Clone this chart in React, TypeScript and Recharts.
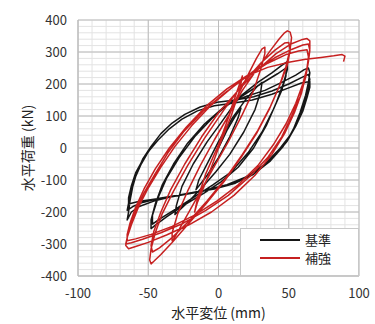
import React from 'react';
import { LineChart, Line, XAxis, YAxis, CartesianGrid, Legend, ReferenceLine } from 'recharts';

// axis ticks
const xTicks = [-100, -50, 0, 50, 100];
const yTicks = [-400, -300, -200, -100, 0, 100, 200, 300, 400];
const xMinorTicks = [-100, -90, -80, -70, -60, -50, -40, -30, -20, -10, 0, 10, 20, 30, 40, 50, 60, 70, 80, 90, 100];
const yMinorTicks = [
  -400, -380, -360, -340, -320, -300, -280, -260, -240, -220, -200, -180, -160, -140, -120, -100, -80, -60, -40, -20,
  0, 20, 40, 60, 80, 100, 120, 140, 160, 180, 200, 220, 240, 260, 280, 300, 320, 340, 360, 380, 400,
];

// 基準 (baseline specimen), [disp mm, load kN]
const kijunCycle1 = [
  [0, 0], [6, 55], [12, 100], [16, 125], [14, 95], [8, 35], [0, -30], [-8, -85], [-16, -130], [-14, -100], [-7, -40], [0, 20],
];
const kijunCycle2 = [
  [10, 95], [20, 155], [27, 190], [31, 205], [30, 175], [26, 120], [18, 50], [8, -20], [-2, -75], [-12, -125],
  [-22, -170], [-28, -195], [-31, -208], [-30, -180], [-26, -120], [-18, -50], [-8, 20], [2, 80],
];
const kijunCycle3 = [
  [15, 160], [28, 205], [38, 235], [45, 258], [49, 270], [49, 245], [46, 200], [41, 140], [34, 70], [25, 0],
  [14, -60], [2, -105], [-10, -140], [-25, -180], [-37, -215], [-44, -238], [-48, -252], [-48, -225], [-45, -175],
  [-40, -115], [-32, -50], [-22, 15], [-10, 75], [3, 125], [16, 160], [30, 200], [42, 232], [48, 250], [48, 225],
  [45, 180], [39, 120], [31, 50], [21, -15], [9, -75], [-4, -115], [-18, -155], [-32, -195], [-42, -222],
  [-47, -238], [-47, -210], [-43, -155], [-37, -95], [-28, -30], [-17, 35], [-4, 95], [8, 140],
];
const kijunCycle4 = [
  [20, 162], [33, 180], [45, 205], [55, 228], [61, 245], [64, 250], [65, 235], [64, 205], [62, 165], [58, 110],
  [53, 55], [46, 5], [37, -40], [25, -82], [12, -110], [-3, -128], [-18, -140], [-33, -152], [-46, -166],
  [-56, -182], [-62, -200], [-65, -225], [-64, -200], [-63, -165], [-61, -120], [-58, -75], [-54, -35],
  [-48, 5], [-41, 45], [-33, 78], [-24, 105], [-13, 128], [-1, 143], [12, 150], [25, 160], [38, 178], [50, 200],
  [59, 220], [64, 230], [65, 215], [64, 185], [61, 140], [57, 90], [51, 40], [43, -5], [33, -50], [20, -90],
  [6, -115], [-10, -132], [-26, -145], [-42, -157], [-54, -170], [-61, -183], [-65, -195], [-64, -172],
  [-62, -135], [-59, -90], [-55, -50], [-50, -12], [-43, 25], [-35, 60], [-26, 90], [-15, 116], [-3, 132],
  [10, 140], [24, 150], [38, 168], [50, 188], [59, 203], [65, 208], [65, 190], [63, 158], [60, 115], [55, 68],
  [49, 22], [41, -20], [30, -62], [17, -97], [3, -120], [-13, -137], [-30, -150], [-46, -160], [-57, -167],
  [-64, -175], [-64, -155], [-62, -118], [-59, -78], [-54, -38], [-48, 0],
];

// 補強 (retrofitted specimen)
const hokyoCycle1 = [
  [0, 0], [8, 110], [15, 200], [17, 225], [15, 180], [9, 100], [0, 0], [-8, -95], [-15, -170], [-17, -200],
  [-15, -160], [-9, -80], [0, 10],
];
const hokyoCycle2 = [
  [10, 130], [20, 220], [27, 280], [31, 310], [33, 315], [33, 295], [30, 245], [25, 180], [17, 105], [7, 20],
  [-4, -65], [-14, -145], [-23, -215], [-29, -262], [-32, -285], [-33, -290], [-33, -265], [-29, -205],
  [-22, -135], [-13, -55], [-3, 25], [7, 100],
];
const hokyoCycle3 = [
  [17, 180], [28, 250], [37, 305], [43, 340], [47, 360], [49, 366], [51, 362], [52, 345], [51, 310], [48, 255],
  [43, 190], [36, 120], [27, 45], [16, -30], [4, -105], [-9, -175], [-22, -240], [-33, -295], [-41, -333],
  [-46, -354], [-48, -362], [-49, -350], [-48, -315], [-45, -265], [-40, -205], [-32, -135], [-22, -55],
  [-10, 30], [4, 120], [18, 205], [30, 265], [40, 305], [47, 328], [50, 330], [51, 305], [49, 260], [44, 200],
  [37, 130], [28, 55], [17, -20], [5, -95], [-8, -165], [-21, -228], [-33, -280], [-42, -312], [-47, -325],
  [-48, -305], [-46, -260], [-41, -200], [-34, -130], [-24, -50], [-12, 35],
];
const hokyoCycle4 = [
  [0, 110], [14, 180], [28, 245], [41, 295], [52, 326], [59, 338], [63, 342], [65, 335], [65, 310], [64, 275],
  [62, 225], [59, 170], [54, 110], [47, 45], [38, -20], [26, -85], [11, -148], [-5, -200], [-21, -240],
  [-37, -272], [-50, -295], [-59, -308], [-64, -315], [-66, -305], [-65, -280], [-62, -240], [-57, -185],
  [-50, -125], [-41, -60], [-31, 5], [-19, 70], [-5, 135], [10, 190], [25, 240], [40, 282], [52, 308],
  [60, 322], [64, 325], [65, 305], [64, 270], [62, 220], [58, 160], [52, 100], [45, 35], [35, -30], [22, -90],
  [7, -148], [-9, -195], [-25, -235], [-41, -265], [-54, -285], [-62, -296], [-66, -300], [-65, -280],
  [-63, -245], [-59, -195], [-53, -140], [-45, -80], [-36, -15], [-25, 50], [-11, 115], [4, 170], [19, 220],
  [35, 265], [48, 292], [57, 303], [63, 307], [64, 285], [63, 250], [60, 200], [55, 140], [48, 75], [39, 10],
  [28, -55], [14, -115], [-1, -165], [-17, -210], [-33, -245], [-48, -270], [-59, -284], [-65, -290],
  [-65, -270], [-63, -235], [-59, -185], [-53, -128], [-45, -65], [-35, 0], [-23, 65], [-9, 130], [6, 185],
];
const hokyoPush = [
  [20, 225], [35, 252], [50, 268], [62, 277], [73, 283], [82, 288], [88, 292], [90, 287], [89, 270],
];

const toPts = (arr: number[][]) => arr.map(([x, y]) => ({ x, y }));
const kijun = toPts([...kijunCycle1, ...kijunCycle2, ...kijunCycle3, ...kijunCycle4]);
const hokyo = toPts([...hokyoCycle1, ...hokyoCycle2, ...hokyoCycle3, ...hokyoCycle4, ...hokyoPush]);

const FONT = '"Noto Sans CJK JP", "Noto Sans", sans-serif';
const MAJOR = '#bcbcbc';

const renderLegend = (props: any) => {
  const { payload } = props;
  return (
    <div
      style={{
        width: 119,
        height: 48,
        background: '#fff',
        border: '1px solid #c8c8c8',
        boxSizing: 'border-box',
        padding: '2px 0 0 19px',
      }}
    >
      {payload.map((p: any) => (
        <div key={p.value} style={{ display: 'flex', alignItems: 'center', height: 18 }}>
          <span style={{ display: 'inline-block', width: 40, height: 2, background: p.color, marginRight: 5 }} />
          <span style={{ fontSize: 13, color: '#222', fontFamily: FONT, lineHeight: '18px' }}>{p.value}</span>
        </div>
      ))}
    </div>
  );
};

const App = () => {
  return (
    <div style={{ position: 'absolute', left: 0, top: 0, background: '#fff' }}>
      <LineChart width={375} height={324} margin={{ top: 20, right: 16, bottom: 18, left: 0 }}>
        <CartesianGrid stroke="#e3e3e3" strokeWidth={1} />
        <XAxis
          dataKey="x"
          type="number"
          domain={[-100, 100]}
          ticks={xMinorTicks}
          interval={0}
          tickFormatter={(v: number) => (xTicks.includes(v) ? String(v) : '')}
          allowDataOverflow
          height={30}
          tickSize={0}
          tickMargin={13}
          stroke={MAJOR}
          tick={{ fontSize: 13, fill: '#333', fontFamily: FONT }}
          label={{ value: '水平変位 (mm)', position: 'bottom', offset: 2, fontSize: 14, fill: '#222', fontFamily: FONT }}
        />
        <YAxis
          type="number"
          domain={[-400, 400]}
          ticks={yMinorTicks}
          interval={0}
          tickFormatter={(v: number) => (yTicks.includes(v) ? String(v) : '')}
          allowDataOverflow
          width={78}
          tickSize={0}
          tickMargin={11}
          stroke={MAJOR}
          tick={{ fontSize: 13, fill: '#333', fontFamily: FONT }}
          label={{
            value: '水平荷重 (kN)',
            angle: -90,
            position: 'insideLeft',
            offset: 28,
            style: { textAnchor: 'middle' },
            fontSize: 14,
            fill: '#222',
            fontFamily: FONT,
          }}
        />
        {xTicks.map((v) => (
          <ReferenceLine key={'x' + v} x={v} stroke={MAJOR} strokeWidth={1} />
        ))}
        {yTicks.map((v) => (
          <ReferenceLine key={'y' + v} y={v} stroke={MAJOR} strokeWidth={1} />
        ))}
        <Legend
          layout="horizontal"
          verticalAlign="middle"
          align="center"
          content={renderLegend}
          wrapperStyle={{ left: 240, top: 228, width: 119, height: 48 }}
        />
        <Line
          data={kijun}
          dataKey="y"
          name="基準"
          type="linear"
          stroke="#161616"
          strokeWidth={1.5}
          strokeLinejoin="round"
          dot={false}
          isAnimationActive={false}
        />
        <Line
          data={hokyo}
          dataKey="y"
          name="補強"
          type="linear"
          stroke="#c62020"
          strokeWidth={1.5}
          strokeLinejoin="round"
          dot={false}
          isAnimationActive={false}
        />
      </LineChart>
    </div>
  );
};

export default App;
